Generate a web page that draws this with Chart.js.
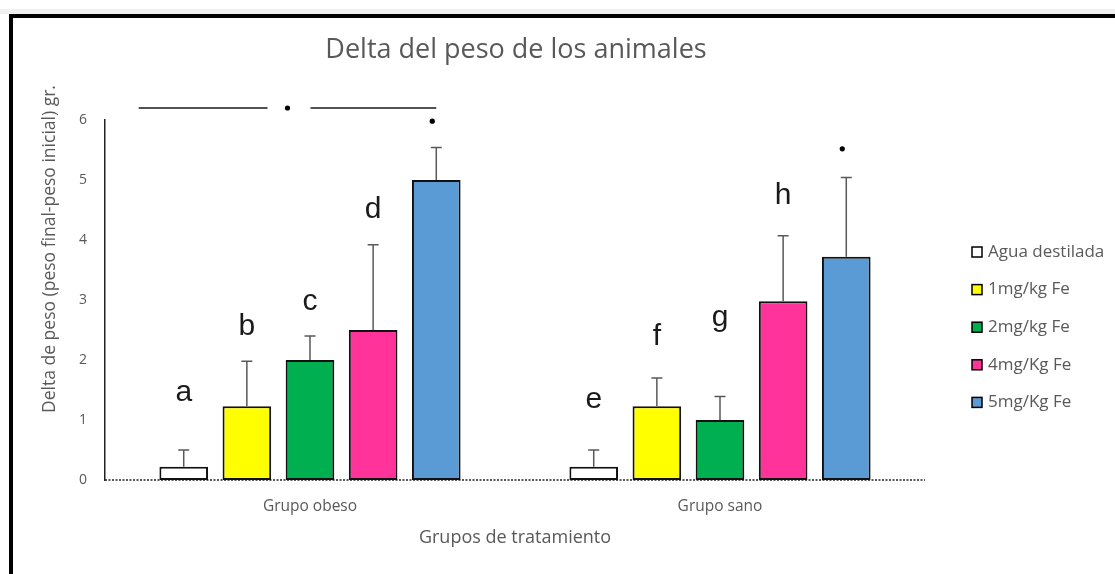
<!DOCTYPE html>
<html>
<head>
<meta charset="utf-8">
<script src="https://cdn.jsdelivr.net/npm/chart.js@4.4.1/dist/chart.umd.min.js"></script>
<style>
  html, body { margin: 0; padding: 0; background: #fff; }
  #wrap { position: relative; width: 1115px; height: 574px; overflow: hidden; }
  #strip { position: absolute; left: 0; top: 9px; width: 1115px; height: 5px; background: #f0f0f0; }
  #frame { position: absolute; left: 9px; top: 14px; width: 1110px; height: 570px;
           border-top: 4px solid #000; border-left: 4px solid #000; box-sizing: border-box; }
  #chart { position: absolute; left: 0; top: 0; }
</style>
</head>
<body>
<div id="wrap">
  <div id="strip"></div>
  <div id="frame"></div>
  <canvas id="chart" width="1115" height="574"></canvas>
</div>
<script>
// Groups and treatments
const groups = ['Grupo obeso', 'Grupo sano'];
const treatments = ['Agua destilada', '1mg/kg Fe', '2mg/kg Fe', '4mg/Kg Fe', '5mg/Kg Fe'];
const colors = ['#FFFFFF', '#FFFF00', '#00B050', '#FF3399', '#5B9BD5'];

// Mean weight change (g) per treatment, [obeso, sano]
const agua = [0.22, 0.22];
const fe1 = [1.23, 1.23];
const fe2 = [2.0, 1.0];
const fe4 = [2.5, 2.98];
const fe5 = [5.0, 3.72];

// Upper error (g) per treatment, [obeso, sano]
const aguaErr = [0.28, 0.28];
const fe1Err = [0.75, 0.47];
const fe2Err = [0.4, 0.39];
const fe4Err = [1.42, 1.09];
const fe5Err = [0.54, 1.32];

// Letter labels and the level (g) at which each is written
const letters = [['a', 'e'], ['b', 'f'], ['c', 'g'], ['d', 'h'], [null, null]];
const letterLevels = [[1.45, 1.33], [2.55, 2.38], [2.97, 2.7], [4.5, 4.73], [null, null]];

// Significance marks: bracket level and dots over the 5mg bars
const bracketLevel = 6.2;
const starLevels = [5.98, 5.52];

const yTicks = [0, 1, 2, 3, 4, 5, 6];

const means = [agua, fe1, fe2, fe4, fe5];
const errs = [aguaErr, fe1Err, fe2Err, fe4Err, fe5Err];

const GRAY = '#595959';
const FONT = '"Open Sans", "Noto Sans", sans-serif';

// dotted zero line under the bars
const baseline = {
  id: 'baseline',
  beforeDatasetsDraw(chart) {
    const ctx = chart.ctx, area = chart.chartArea;
    const y0 = chart.scales.y.getPixelForValue(0);
    ctx.save();
    ctx.strokeStyle = '#222';
    ctx.lineWidth = 1.5;
    ctx.setLineDash([2, 1.5]);
    ctx.beginPath();
    ctx.moveTo(area.left, y0);
    ctx.lineTo(area.right, y0);
    ctx.stroke();
    ctx.restore();
  }
};

const errorBars = {
  id: 'errorBars',
  afterDatasetsDraw(chart) {
    const ctx = chart.ctx, y = chart.scales.y;
    ctx.save();
    ctx.strokeStyle = GRAY;
    ctx.lineWidth = 1.5;
    chart.data.datasets.forEach((ds, i) => {
      chart.getDatasetMeta(i).data.forEach((bar, j) => {
        const top = y.getPixelForValue(ds.data[j] + ds.errPlus[j]);
        ctx.beginPath();
        ctx.moveTo(bar.x, bar.y);
        ctx.lineTo(bar.x, top);
        ctx.moveTo(bar.x - 5.5, top);
        ctx.lineTo(bar.x + 5.5, top);
        ctx.stroke();
      });
    });
    ctx.restore();
  }
};

const marks = {
  id: 'marks',
  afterDraw(chart) {
    const ctx = chart.ctx, y = chart.scales.y, area = chart.chartArea;
    ctx.save();
    // letters
    ctx.fillStyle = '#1a1a1a';
    ctx.font = '30px "Liberation Sans", Arial, sans-serif';
    ctx.textAlign = 'center';
    ctx.textBaseline = 'middle';
    letters.forEach((row, i) => {
      const meta = chart.getDatasetMeta(i);
      row.forEach((l, j) => {
        if (!l) return;
        ctx.fillText(l, meta.data[j].x, y.getPixelForValue(letterLevels[i][j]));
      });
    });
    // bracket with dot over obese group
    const first = chart.getDatasetMeta(0).data[0];
    const last = chart.getDatasetMeta(4).data[0];
    const x0 = first.x - 45, x1 = last.x;
    const xm = (x0 + x1) / 2;
    const yb = y.getPixelForValue(bracketLevel);
    ctx.strokeStyle = '#1a1a1a';
    ctx.lineWidth = 1.5;
    ctx.beginPath();
    ctx.moveTo(x0, yb); ctx.lineTo(xm - 20, yb);
    ctx.moveTo(xm + 23, yb); ctx.lineTo(x1, yb);
    ctx.stroke();
    ctx.fillStyle = '#000';
    const dot = (cx, cy) => { ctx.beginPath(); ctx.arc(cx, cy, 2.6, 0, Math.PI * 2); ctx.fill(); };
    dot(xm, yb);
    chart.getDatasetMeta(4).data.forEach((bar, j) => {
      dot(bar.x - 4, y.getPixelForValue(starLevels[j]));
    });
    // title
    ctx.fillStyle = GRAY;
    ctx.font = '27px ' + FONT;
    ctx.textAlign = 'center';
    ctx.fillText('Delta del peso de los animales', (area.left + area.right) / 2 + 1, 50);
    // y axis title
    ctx.save();
    ctx.translate(50, 249);
    ctx.rotate(-Math.PI / 2);
    ctx.font = '17.5px ' + FONT;
    ctx.fillText('Delta de peso (peso final-peso inicial) gr.', 0, 0);
    ctx.restore();
    // legend
    ctx.textAlign = 'left';
    ctx.font = '17px ' + FONT;
    chart.data.datasets.forEach((ds, i) => {
      const cy = 252 + i * 37.6;
      ctx.fillStyle = ds.backgroundColor;
      ctx.fillRect(972, cy - 5, 10, 10);
      ctx.strokeStyle = '#000';
      ctx.lineWidth = 1.5;
      ctx.strokeRect(972, cy - 5, 10, 10);
      ctx.fillStyle = GRAY;
      ctx.fillText(ds.label, 988, cy);
    });
    ctx.restore();
  }
};

new Chart(document.getElementById('chart'), {
  type: 'bar',
  data: {
    labels: groups,
    datasets: treatments.map((t, i) => ({
      label: t,
      data: means[i],
      errPlus: errs[i],
      backgroundColor: colors[i],
      borderColor: '#111',
      borderWidth: 2,
      borderSkipped: false,
      categoryPercentage: 0.77,
      barPercentage: 0.77
    }))
  },
  options: {
    responsive: false,
    animation: false,
    layout: { padding: { left: 0, right: 190, top: 120, bottom: 0 } },
    plugins: { legend: { display: false }, title: { display: false }, tooltip: { enabled: false } },
    scales: {
      x: {
        grid: { display: false, drawTicks: false },
        border: { display: false },
        ticks: { color: GRAY, font: { family: FONT, size: 15.5 }, padding: 17 },
        title: { display: true, text: 'Grupos de tratamiento', color: GRAY,
                 font: { family: FONT, size: 18 }, padding: { top: 0, bottom: 25 } },
        afterFit(s) { s.height = 94; }
      },
      y: {
        min: 0, max: 6,
        afterBuildTicks(s) { s.ticks = yTicks.map(v => ({ value: v })); },
        grid: { display: false, drawTicks: false },
        border: { display: true, color: '#222', width: 1.5 },
        ticks: { color: GRAY, font: { family: FONT, size: 14 }, padding: 18 },
        afterFit(s) { s.width = 105; }
      }
    }
  },
  plugins: [baseline, errorBars, marks]
});
</script>
</body>
</html>
